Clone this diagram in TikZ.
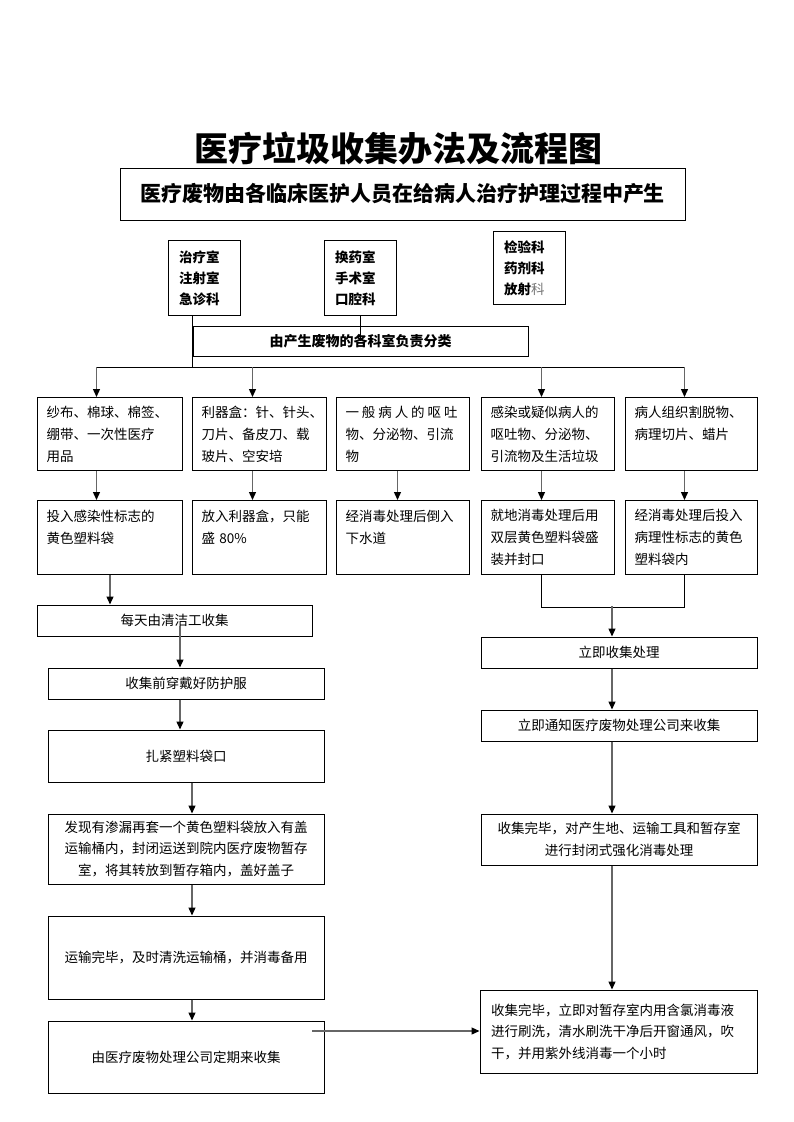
\documentclass[tikz,border=0pt]{standalone}
\usepackage{fontspec}
\setmainfont{Noto Sans CJK SC}
\usetikzlibrary{arrows.meta}
\tikzstyle{dept} = [rectangle, draw=black, line width=1pt, anchor=north west, minimum width=72pt, minimum height=75pt, text width=51pt, inner xsep=10.5pt, align=left, font=\bfseries\fontsize{13.5}{21}\selectfont]
\tikzstyle{cell} = [rectangle, draw=black, line width=1pt, anchor=north west, minimum height=73pt, inner xsep=9pt, align=left, font=\fontsize{13.5}{22}\selectfont]
\tikzstyle{stage} = [rectangle, draw=black, line width=1pt, minimum width=276pt, align=center, font=\fontsize{13.5}{21.5}\selectfont]
\tikzstyle{arrow} = [line width=1.3pt, draw=black!60, -{Triangle[length=8pt,width=7pt,color=black]}]
\tikzstyle{line} = [line width=0.8pt, draw=black]
\begin{document}
\begin{tikzpicture}[x=1pt, y=-1pt]
    \useasboundingbox (0,0) rectangle (793,1122);
    \node (title) [font=\bfseries\fontsize{34}{34}\selectfont] at (398,148) {医疗垃圾收集办法及流程图};
    \node (source) [rectangle, draw, line width=1pt, minimum width=565pt, minimum height=52pt, font=\bfseries\fontsize{21}{21}\selectfont] at (402.5,194) {医疗废物由各临床医护人员在给病人治疗护理过程中产生};

    % departments
    \node (treat) [dept] at (168,240) {治疗室\\注射室\\急诊科};
    \node (dress) [dept] at (324,240) {换药室\\手术室\\口腔科};
    \node (lab) [dept, minimum width=71pt, minimum height=73pt] at (493,231) {检验科\\药剂科\\放射{\mdseries\color{black!55}科}};
    \node (sort) [rectangle, draw, line width=1pt, minimum width=335pt, minimum height=30pt, font=\bfseries\fontsize{14}{14}\selectfont] at (360.5,341) {由产生废物的各科室负责分类};

    % waste types
    \node (gauze) [cell, text width=127pt] at (37,397) {纱布、棉球、棉签、\\绷带、一次性医疗\\用品};
    \node (sharps) [cell, text width=116pt] at (192,397) {利器盒：针、针头、\\刀片、备皮刀、载\\玻片、空安培};
    \node (vomit) [cell, text width=115pt] at (336,397) {\hbox to 112pt{一\hfill 般\hfill 病\hfill 人\hfill 的\hfill 呕\hfill 吐}\\物、分泌物、引流\\物};
    \node (infect) [cell, text width=115pt] at (481,397) {感染或疑似病人的\\呕吐物、分泌物、\\引流物及生活垃圾};
    \node (tissue) [cell, text width=114pt] at (625,397) {病人组织割脱物、\\病理切片、蜡片\\\mbox{}};

    % handling
    \node (yellowbag) [cell, text width=127pt, minimum height=74pt] at (37,500) {投入感染性标志的\\黄色塑料袋\\\mbox{}};
    \node (sharpbox) [cell, text width=116pt, minimum height=74pt] at (192,500) {放入利器盒，只能\\盛 80\%\\\mbox{}};
    \node (drain) [cell, text width=115pt, minimum height=74pt] at (336,500) {经消毒处理后倒入\\下水道\\\mbox{}};
    \node (bagseal) [cell, text width=115pt, minimum height=74pt] at (481,500) {就地消毒处理后用\\双层黄色塑料袋盛\\装并封口};
    \node (pathbag) [cell, text width=114pt, minimum height=74pt] at (625,500) {经消毒处理后投入\\病理性标志的黄色\\塑料袋内};

    % routine collection
    \node (daily) [stage, minimum width=275pt, minimum height=31pt] at (174.5,620.5) {每天由清洁工收集};
    \node (gown) [stage, minimum height=31pt] at (186,683.5) {收集前穿戴好防护服};
    \node (tie) [stage, minimum height=52pt] at (186,756) {扎紧塑料袋口};
    \node (leak) [stage, minimum height=70pt] at (186,849) {发现有渗漏再套一个黄色塑料袋放入有盖\\运输桶内，封闭运送到院内医疗废物暂存\\室，将其转放到暂存箱内，盖好盖子};
    \node (wash) [stage, minimum height=83pt] at (186,957.5) {运输完毕，及时清洗运输桶，并消毒备用};
    \node (company) [stage, minimum height=72pt] at (186,1057) {由医疗废物处理公司定期来收集};

    % immediate collection
    \node (now) [stage, minimum height=31pt] at (619,652.5) {立即收集处理};
    \node (notify) [stage, minimum height=31pt] at (619,725.5) {立即通知医疗废物处理公司来收集};
    \node (seal) [stage, minimum height=51pt] at (619,839.5) {收集完毕，对产生地、运输工具和暂存室\\进行封闭式强化消毒处理};
    \node (room) [stage, minimum height=83pt, align=left, text width=255pt, inner xsep=11pt] at (618.5,1031.5) {收集完毕，立即对暂存室内用含氯消毒液\\进行刷洗，清水刷洗干净后开窗通风，吹\\干，并用紫外线消毒一个小时};

    \coordinate (distL) at (96,367);
    \coordinate (distR) at (684,367);
    \coordinate (merge) at (612,606);
    \coordinate (dailyout) at (180,626);
    \coordinate (companyout) at (312,1031);

    \draw [line] (treat.south -| sort.west) -- (sort.west |- distL);
    \draw [line] (dress.south) -- (sort.center);
    \draw [line] (distL) -- (distR);
    \foreach \n/\dx in {gauze/-13.5, sharps/-7, infect/-6.5, tissue/-7}
        \draw [arrow] ([xshift=\dx pt]\n.north) ++(0,-30) -- ([xshift=\dx pt]\n.north);
    \foreach \a/\b/\dx in {gauze/yellowbag/-13.5, sharps/sharpbox/-7, vomit/drain/-5.5, infect/bagseal/-6.5, tissue/pathbag/-7}
        \draw [arrow] ([xshift=\dx pt]\a.south) -- ([xshift=\dx pt]\b.north);

    \draw [arrow] (yellowbag.south) -- (yellowbag.south |- daily.north);
    \draw [arrow] (dailyout) -- (dailyout |- gown.north);
    \draw [arrow] ([xshift=-6pt]gown.south) -- ([xshift=-6pt]tie.north);
    \draw [arrow] ([xshift=6pt]tie.south) -- ([xshift=6pt]leak.north);
    \draw [arrow] ([xshift=6pt]leak.south) -- ([xshift=6pt]wash.north);
    \draw [arrow] ([xshift=6pt]wash.south) -- ([xshift=6pt]company.north);
    \draw [arrow] (companyout) -- (companyout -| room.west);

    \draw [line] ([xshift=-6.5pt]bagseal.south) -- ++(0,32) -| ([xshift=-7pt]pathbag.south);
    \draw [arrow] (merge) -- (merge |- now.north);
    \draw [arrow] ([xshift=-7pt]now.south) -- ([xshift=-7pt]notify.north);
    \draw [arrow] ([xshift=-7pt]notify.south) -- ([xshift=-7pt]seal.north);
    \draw [arrow] ([xshift=-7pt]seal.south) -- ([xshift=-6.5pt]room.north);
\end{tikzpicture}
\end{document}
